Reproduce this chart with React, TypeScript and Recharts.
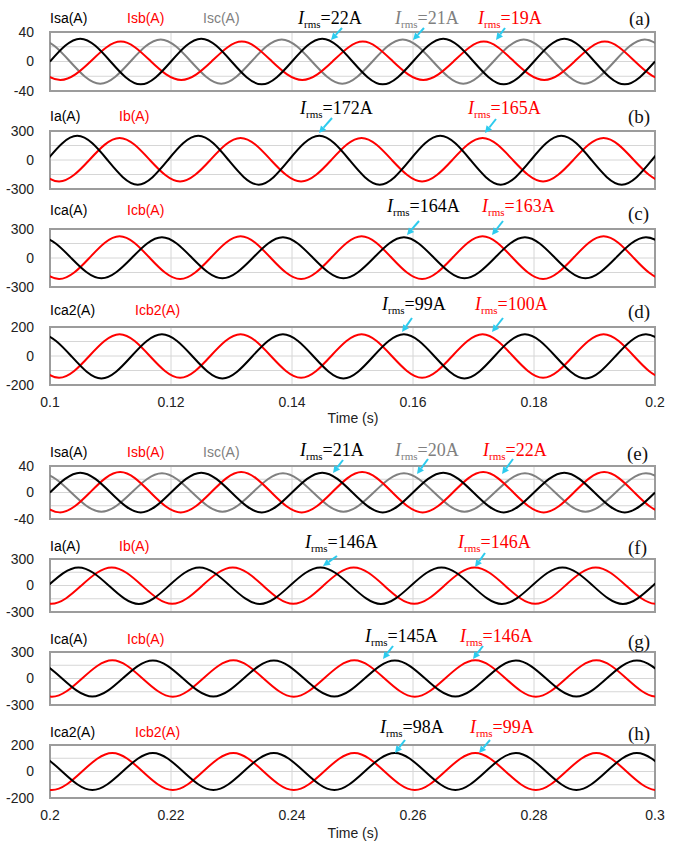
import { LineChart, Line, XAxis, YAxis, CartesianGrid, ReferenceArea } from "recharts";

const RED = "#ff0000";
const BLACK = "#000000";
const GRAY = "#808080";
const CYAN = "#2ccbee";
const SANS = "Liberation Sans, Arial, sans-serif";
const SERIF = "Liberation Serif, Times New Roman, serif";

// x ticks (time, s)
const upperTicks = [0.1, 0.12, 0.14, 0.16, 0.18, 0.2];
const lowerTicks = [0.2, 0.22, 0.24, 0.26, 0.28, 0.3];

// (a) source currents, 0.1-0.2 s: times of zero crossings / peaks and values read there
const aIsaT = [0.1, 0.105, 0.11, 0.115, 0.12, 0.125, 0.13, 0.135, 0.14, 0.145, 0.15, 0.155, 0.16, 0.165, 0.17, 0.175, 0.18, 0.185, 0.19, 0.195, 0.2];
const aIsaV = [0, 31, 0, -31, 0, 31, 0, -31, 0, 31, 0, -31, 0, 31, 0, -31, 0, 31, 0, -31, 0];
const aIsbT = [0.0967, 0.1017, 0.1067, 0.1117, 0.1167, 0.1217, 0.1267, 0.1317, 0.1367, 0.1417, 0.1467, 0.1517, 0.1567, 0.1617, 0.1667, 0.1717, 0.1767, 0.1817, 0.1867, 0.1917, 0.1967, 0.2017, 0.2067];
const aIsbV = [0, -25, 0, 27, 0, -25, 0, 27, 0, -25, 0, 27, 0, -25, 0, 27, 0, -25, 0, 27, 0, -25, 0];
const aIscT = [0.0933, 0.0983, 0.1033, 0.1083, 0.1133, 0.1183, 0.1233, 0.1283, 0.1333, 0.1383, 0.1433, 0.1483, 0.1533, 0.1583, 0.1633, 0.1683, 0.1733, 0.1783, 0.1833, 0.1883, 0.1933, 0.1983, 0.2033];
const aIscV = [0, 30, 0, -30, 0, 30, 0, -30, 0, 30, 0, -30, 0, 30, 0, -30, 0, 30, 0, -30, 0, 30, 0];

// (b) load currents
const bIaT = [0.0995, 0.1045, 0.1095, 0.1145, 0.1195, 0.1245, 0.1295, 0.1345, 0.1395, 0.1445, 0.1495, 0.1545, 0.1595, 0.1645, 0.1695, 0.1745, 0.1795, 0.1845, 0.1895, 0.1945, 0.1995, 0.2045, 0.2095];
const bIaV = [0, 250, 0, -255, 0, 250, 0, -255, 0, 250, 0, -255, 0, 250, 0, -255, 0, 250, 0, -255, 0, 250, 0];
const bIbT = [0.0965, 0.1015, 0.1065, 0.1115, 0.1165, 0.1215, 0.1265, 0.1315, 0.1365, 0.1415, 0.1465, 0.1515, 0.1565, 0.1615, 0.1665, 0.1715, 0.1765, 0.1815, 0.1865, 0.1915, 0.1965, 0.2015, 0.2065];
const bIbV = [0, -222, 0, 228, 0, -222, 0, 228, 0, -222, 0, 228, 0, -222, 0, 228, 0, -222, 0, 228, 0, -222, 0];

// (c), (d) compensator currents share the same phases
const cdCaT = [0.0935, 0.0985, 0.1035, 0.1085, 0.1135, 0.1185, 0.1235, 0.1285, 0.1335, 0.1385, 0.1435, 0.1485, 0.1535, 0.1585, 0.1635, 0.1685, 0.1735, 0.1785, 0.1835, 0.1885, 0.1935, 0.1985, 0.2035];
const cdCbT = [0.0965, 0.1015, 0.1065, 0.1115, 0.1165, 0.1215, 0.1265, 0.1315, 0.1365, 0.1415, 0.1465, 0.1515, 0.1565, 0.1615, 0.1665, 0.1715, 0.1765, 0.1815, 0.1865, 0.1915, 0.1965, 0.2015, 0.2065];
const cIcaV = [0, 215, 0, -210, 0, 215, 0, -210, 0, 215, 0, -210, 0, 215, 0, -210, 0, 215, 0, -210, 0, 215, 0];
const cIcbV = [0, -218, 0, 225, 0, -218, 0, 225, 0, -218, 0, 225, 0, -218, 0, 225, 0, -218, 0, 225, 0, -218, 0];
const dIca2V = [0, 150, 0, -155, 0, 150, 0, -155, 0, 150, 0, -155, 0, 150, 0, -155, 0, 150, 0, -155, 0, 150, 0];
const dIcb2V = [0, -150, 0, 150, 0, -150, 0, 150, 0, -150, 0, 150, 0, -150, 0, 150, 0, -150, 0, 150, 0, -150, 0];

// (e) source currents, 0.2-0.3 s
const eIsaT = [0.2, 0.205, 0.21, 0.215, 0.22, 0.225, 0.23, 0.235, 0.24, 0.245, 0.25, 0.255, 0.26, 0.265, 0.27, 0.275, 0.28, 0.285, 0.29, 0.295, 0.3];
const eIsaV = [0, 30, 0, -30, 0, 30, 0, -30, 0, 30, 0, -30, 0, 30, 0, -30, 0, 30, 0, -30, 0];
const eIsbT = [0.1966, 0.2016, 0.2066, 0.2116, 0.2166, 0.2216, 0.2266, 0.2316, 0.2366, 0.2416, 0.2466, 0.2516, 0.2566, 0.2616, 0.2666, 0.2716, 0.2766, 0.2816, 0.2866, 0.2916, 0.2966, 0.3016, 0.3066];
const eIsbV = [0, -30, 0, 31, 0, -30, 0, 31, 0, -30, 0, 31, 0, -30, 0, 31, 0, -30, 0, 31, 0, -30, 0];
const eIscT = [0.1935, 0.1985, 0.2035, 0.2085, 0.2135, 0.2185, 0.2235, 0.2285, 0.2335, 0.2385, 0.2435, 0.2485, 0.2535, 0.2585, 0.2635, 0.2685, 0.2735, 0.2785, 0.2835, 0.2885, 0.2935, 0.2985, 0.3035];
const eIscV = [0, 29, 0, -29, 0, 29, 0, -29, 0, 29, 0, -29, 0, 29, 0, -29, 0, 29, 0, -29, 0, 29, 0];

// (f) load currents
const fIaT = [0.1997, 0.2047, 0.2097, 0.2147, 0.2197, 0.2247, 0.2297, 0.2347, 0.2397, 0.2447, 0.2497, 0.2547, 0.2597, 0.2647, 0.2697, 0.2747, 0.2797, 0.2847, 0.2897, 0.2947, 0.2997, 0.3047, 0.3097];
const fIaV = [0, 205, 0, -210, 0, 205, 0, -210, 0, 205, 0, -210, 0, 205, 0, -210, 0, 205, 0, -210, 0, 205, 0];
const fIbT = [0.1952, 0.2002, 0.2052, 0.2102, 0.2152, 0.2202, 0.2252, 0.2302, 0.2352, 0.2402, 0.2452, 0.2502, 0.2552, 0.2602, 0.2652, 0.2702, 0.2752, 0.2802, 0.2852, 0.2902, 0.2952, 0.3002, 0.3052];
const fIbV = [0, -208, 0, 205, 0, -208, 0, 205, 0, -208, 0, 205, 0, -208, 0, 205, 0, -208, 0, 205, 0, -208, 0];

// (g), (h) compensator currents
const ghCaT = [0.192, 0.197, 0.202, 0.207, 0.212, 0.217, 0.222, 0.227, 0.232, 0.237, 0.242, 0.247, 0.252, 0.257, 0.262, 0.267, 0.272, 0.277, 0.282, 0.287, 0.292, 0.297, 0.302];
const ghCbT = [0.1953, 0.2003, 0.2053, 0.2103, 0.2153, 0.2203, 0.2253, 0.2303, 0.2353, 0.2403, 0.2453, 0.2503, 0.2553, 0.2603, 0.2653, 0.2703, 0.2753, 0.2803, 0.2853, 0.2903, 0.2953, 0.3003, 0.3053];
const gIcaV = [0, 205, 0, -205, 0, 205, 0, -205, 0, 205, 0, -205, 0, 205, 0, -205, 0, 205, 0, -205, 0, 205, 0];
const gIcbV = [0, -206, 0, 206, 0, -206, 0, 206, 0, -206, 0, 206, 0, -206, 0, 206, 0, -206, 0, 206, 0, -206, 0];
const hIca2V = [0, 140, 0, -140, 0, 140, 0, -140, 0, 140, 0, -140, 0, 140, 0, -140, 0, 140, 0, -140, 0, 140, 0];
const hIcb2V = [0, -140, 0, 140, 0, -140, 0, 140, 0, -140, 0, 140, 0, -140, 0, 140, 0, -140, 0, 140, 0, -140, 0];

const zip = (t: number[], v: number[]) => t.map((x, i) => ({ t: x, v: v[i] }));

const y40 = [-40, -20, 0, 20, 40];
const y300 = [-300, -150, 0, 150, 300];
const y200 = [-200, -100, 0, 100, 200];

const panels = [
  { id: "a", top: 32, h: 59, x: upperTicks, y: y40, showX: false, series: [[aIscT, aIscV, GRAY], [aIsbT, aIsbV, RED], [aIsaT, aIsaV, BLACK]] },
  { id: "b", top: 131, h: 58, x: upperTicks, y: y300, showX: false, series: [[bIbT, bIbV, RED], [bIaT, bIaV, BLACK]] },
  { id: "c", top: 229, h: 58, x: upperTicks, y: y300, showX: false, series: [[cdCbT, cIcbV, RED], [cdCaT, cIcaV, BLACK]] },
  { id: "d", top: 327, h: 58, x: upperTicks, y: y200, showX: true, series: [[cdCbT, dIcb2V, RED], [cdCaT, dIca2V, BLACK]] },
  { id: "e", top: 466, h: 53, x: lowerTicks, y: y40, showX: false, series: [[eIscT, eIscV, GRAY], [eIsbT, eIsbV, RED], [eIsaT, eIsaV, BLACK]] },
  { id: "f", top: 559, h: 53, x: lowerTicks, y: y300, showX: false, series: [[fIbT, fIbV, RED], [fIaT, fIaV, BLACK]] },
  { id: "g", top: 652, h: 53, x: lowerTicks, y: y300, showX: false, series: [[ghCbT, gIcbV, RED], [ghCaT, gIcaV, BLACK]] },
  { id: "h", top: 745, h: 53, x: lowerTicks, y: y200, showX: true, series: [[ghCbT, hIcb2V, RED], [ghCaT, hIca2V, BLACK]] },
];

// series names above each panel: text, x, baseline, colour
const labels: [string, number, number, string][] = [
  ["Isa(A)", 50, 23, BLACK], ["Isb(A)", 127, 23, RED], ["Isc(A)", 203, 23, GRAY],
  ["Ia(A)", 50, 121, BLACK], ["Ib(A)", 119, 121, RED],
  ["Ica(A)", 50, 215, BLACK], ["Icb(A)", 127, 215, RED],
  ["Ica2(A)", 50, 315, BLACK], ["Icb2(A)", 135, 315, RED],
  ["Isa(A)", 50, 457, BLACK], ["Isb(A)", 127, 457, RED], ["Isc(A)", 203, 457, GRAY],
  ["Ia(A)", 50, 551, BLACK], ["Ib(A)", 119, 551, RED],
  ["Ica(A)", 50, 644, BLACK], ["Icb(A)", 127, 644, RED],
  ["Ica2(A)", 50, 737, BLACK], ["Icb2(A)", 135, 737, RED],
];

// rms annotations: value, x, baseline, colour, arrow tail x/y, arrow tip x/y
const rmsNotes: [string, number, number, string, number, number, number, number][] = [
  ["22", 298, 24, BLACK, 342, 28, 331, 40], ["21", 395, 24, GRAY, 424, 28, 413, 40], ["19", 478, 24, RED, 505, 28, 496, 40],
  ["172", 300, 114, BLACK, 332, 118, 319, 133], ["165", 468, 114, RED, 496, 119, 485, 133],
  ["164", 387, 212, BLACK, 419, 221, 407, 235], ["163", 482, 212, RED, 503, 221, 492, 235],
  ["99", 382, 310, BLACK, 412, 318, 402, 332], ["100", 475, 310, RED, 503, 318, 492, 332],
  ["21", 300, 456, BLACK, 343, 460, 333, 473], ["20", 395, 456, GRAY, 428, 459, 417, 474], ["22", 483, 456, RED, 513, 459, 502, 474],
  ["146", 305, 548, BLACK, 337, 556, 323, 566], ["146", 458, 548, RED, 485, 553, 475, 567],
  ["145", 365, 642, BLACK, 393, 646, 383, 659], ["146", 460, 642, RED, 483, 646, 473, 659],
  ["98", 380, 733, BLACK, 405, 740, 395, 753], ["99", 470, 733, RED, 490, 740, 479, 753],
];

const tags: [string, number, number][] = [
  ["(a)", 629, 25], ["(b)", 628, 123], ["(c)", 628, 220], ["(d)", 628, 318],
  ["(e)", 627, 460], ["(f)", 628, 554], ["(g)", 628, 648], ["(h)", 628, 740],
];

function Arrow({ x1, y1, x2, y2 }: { x1: number; y1: number; x2: number; y2: number }) {
  const a = Math.atan2(y2 - y1, x2 - x1);
  const L = 7, W = 3.5;
  const bx = x2 - L * Math.cos(a), by = y2 - L * Math.sin(a);
  const p1 = `${bx + W * Math.sin(a)},${by - W * Math.cos(a)}`;
  const p2 = `${bx - W * Math.sin(a)},${by + W * Math.cos(a)}`;
  return (
    <g>
      <line x1={x1} y1={y1} x2={bx} y2={by} stroke={CYAN} strokeWidth={2} />
      <polygon points={`${x2},${y2} ${p1} ${p2}`} fill={CYAN} />
    </g>
  );
}

function Panel({ p }: { p: (typeof panels)[number] }) {
  const xAxisH = p.showX ? 30 : 0;
  const yMax = p.y[p.y.length - 1];
  const x0 = p.x[0], x1 = p.x[p.x.length - 1];
  return (
    <div style={{ position: "absolute", left: 0, top: p.top - 8 }}>
      <LineChart width={680} height={p.h + 16 + xAxisH} margin={{ top: 8, right: 25, bottom: 8, left: 0 }}>
        <CartesianGrid stroke="#d6d6d6" strokeWidth={1} />
        <XAxis
          type="number"
          dataKey="t"
          domain={[x0, x1]}
          ticks={p.x}
          allowDataOverflow
          hide={!p.showX}
          height={xAxisH}
          interval={0}
          axisLine={false}
          tickLine={false}
          tickSize={0}
          tickMargin={12}
          tickFormatter={(v: number) => String(v)}
          tick={{ fill: "#222", fontSize: 14, fontFamily: SANS }}
        />
        <YAxis
          type="number"
          domain={[-yMax, yMax]}
          ticks={p.y}
          allowDataOverflow
          width={50}
          interval={0}
          axisLine={false}
          tickLine={false}
          tickSize={0}
          tickMargin={16}
          tickFormatter={(v: number) => (v === 0 || Math.abs(v) === yMax ? String(v) : "")}
          tick={{ fill: "#222", fontSize: 14, fontFamily: SANS }}
        />
        <ReferenceArea x1={x0} x2={x1} y1={-yMax} y2={yMax} fill="none" stroke="#9c9c9c" strokeWidth={2} />
        {p.series.map((s, i) => (
          <Line
            key={i}
            data={zip(s[0] as number[], s[1] as number[])}
            dataKey="v"
            type="natural"
            stroke={s[2] as string}
            strokeWidth={2}
            dot={false}
            isAnimationActive={false}
          />
        ))}
      </LineChart>
    </div>
  );
}

export default function App() {
  return (
    <div style={{ position: "absolute", left: 0, top: 0, width: 680, height: 841, background: "#fff", overflow: "hidden" }}>
      {panels.map((p) => (
        <Panel key={p.id} p={p} />
      ))}
      <svg width={680} height={841} style={{ position: "absolute", left: 0, top: 0, pointerEvents: "none" }}>
        {labels.map(([t, x, y, c], i) => (
          <text key={"l" + i} x={x} y={y} fill={c} fontSize={14} fontFamily={SANS}>{t}</text>
        ))}
        {rmsNotes.map(([v, x, y, c, ax, ay, bx, by], i) => (
          <g key={"r" + i}>
            <text x={x} y={y} fill={c} fontSize={18} fontFamily={SERIF}>
              <tspan fontStyle="italic">I</tspan>
              <tspan fontSize={11} dy={4}>rms</tspan>
              <tspan dy={-4}>={v}A</tspan>
            </text>
            <Arrow x1={ax} y1={ay} x2={bx} y2={by} />
          </g>
        ))}
        {tags.map(([t, x, y]) => (
          <text key={t} x={x} y={y} fill="#111" fontSize={19} fontFamily={SERIF}>{t}</text>
        ))}
        <text x={353} y={423} textAnchor="middle" fill="#222" fontSize={14} fontFamily={SANS}>Time (s)</text>
        <text x={353} y={838} textAnchor="middle" fill="#222" fontSize={14} fontFamily={SANS}>Time (s)</text>
      </svg>
    </div>
  );
}
